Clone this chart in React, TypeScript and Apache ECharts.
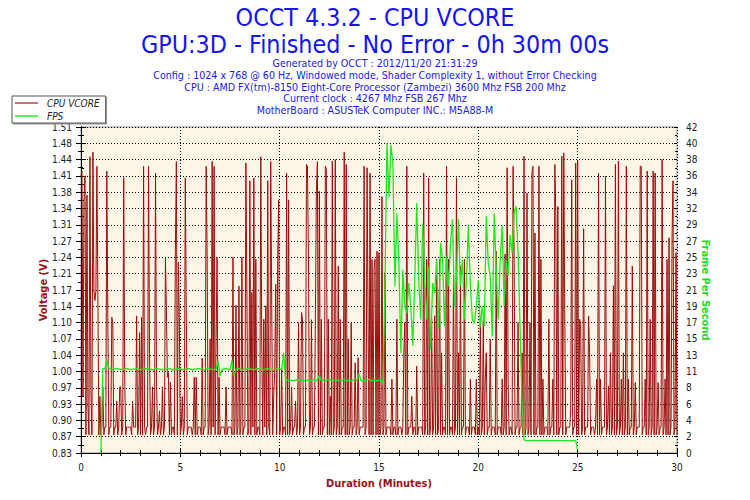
import React, { useEffect, useRef } from "react";
import * as echarts from "echarts";

const FONT = '"DejaVu Sans Condensed", "DejaVu Sans", sans-serif';

const titleLines = ["OCCT 4.3.2 - CPU VCORE", "GPU:3D - Finished - No Error - 0h 30m 00s"];
const infoLines = [
  "Generated by OCCT : 2012/11/20 21:31:29",
  "Config : 1024 x 768 @ 60 Hz, Windowed mode, Shader Complexity 1, without Error Checking",
  "CPU : AMD FX(tm)-8150 Eight-Core Processor (Zambezi) 3600 Mhz FSB 200 Mhz",
  "Current clock : 4267 Mhz FSB 267 Mhz",
  "MotherBoard : ASUSTeK Computer INC.: M5A88-M",
];

// CPU VCORE samples, one every 0.05 minute (3 s), from 0 to 30 min
const vcoreStep = 0.05;
const vcore = [
  1.41,1.42,0.95,1.36,1.41,0.87,1.37,0.93,0.87,1.45,0.96,0.87,1.46,1.17,1.15,1.17,1.43,1.16,0.87,0.95,
  0.87,0.886,0.97,0.87,0.886,0.886,1.42,1.115,0.87,0.886,0.886,1.115,1.104,0.87,0.886,0.886,0.94,0.87,0.886,0.97,
  0.97,0.87,0.886,1.406,0.99,0.87,0.886,0.886,0.886,0.886,0.886,0.87,0.94,0.886,0.886,0.886,1.118,0.87,0.886,1.083,
  0.87,1.115,0.87,1.43,0.886,0.87,0.886,0.886,1.43,1.04,0.87,0.886,0.97,0.87,0.886,1.416,0.99,0.87,0.886,0.92,
  0.87,0.886,0.97,0.87,0.886,1.24,1.13,0.99,1.0,0.87,0.98,0.87,0.886,0.886,0.87,1.25,1.44,0.87,1.23,1.11,
  0.87,0.886,0.95,0.87,0.886,1.406,1.125,0.87,0.886,0.886,0.886,0.886,0.87,0.886,0.99,0.87,0.99,0.87,0.886,0.886,
  0.886,0.87,1.03,0.87,0.886,0.886,1.43,1.24,0.87,0.886,1.07,0.87,1.44,0.886,1.43,0.87,1.07,1.24,0.87,0.99,
  0.87,0.886,0.886,0.886,0.886,0.87,0.97,0.87,0.886,0.886,0.886,0.886,0.87,1.24,0.87,0.886,1.14,0.87,0.886,1.18,
  0.87,0.886,1.24,0.87,0.886,0.886,1.437,1.174,0.87,0.886,1.40,0.87,1.167,0.886,1.406,0.87,1.236,0.87,0.886,0.886,
  0.87,1.45,1.055,0.87,1.111,0.886,1.139,0.87,1.40,0.886,0.87,1.44,1.139,0.87,0.95,1.0,1.184,0.87,1.236,1.36,
  0.87,0.886,1.01,0.87,0.886,0.886,0.87,1.416,0.87,1.36,0.87,0.886,0.97,0.87,0.886,0.886,0.94,0.87,0.886,1.104,
  0.87,0.886,1.125,1.11,0.87,0.886,0.886,1.434,1.43,1.236,0.87,0.886,1.11,0.87,0.886,0.886,1.125,1.38,1.44,0.87,
  1.378,0.87,1.111,0.87,0.886,0.886,1.43,1.423,0.87,1.111,0.87,0.95,0.87,1.441,0.87,0.886,1.444,0.87,0.886,1.222,
  0.87,1.111,0.87,0.886,0.886,1.46,0.87,1.434,0.87,1.07,0.87,0.886,1.104,0.87,0.886,0.886,1.02,0.87,0.886,1.031,
  0.87,0.886,0.886,0.886,0.886,1.43,0.87,0.886,1.427,1.111,0.87,1.416,0.87,1.236,0.87,1.215,1.236,0.87,1.253,0.87,
  1.25,0.87,0.886,1.367,0.87,0.886,1.208,0.87,0.886,0.886,0.886,0.886,0.87,0.986,0.87,0.886,0.886,0.87,1.111,0.87,
  0.886,0.886,0.886,0.87,0.886,1.041,1.104,0.87,1.43,0.87,0.886,0.886,0.886,0.95,0.87,0.886,0.886,0.87,1.013,0.87,
  0.886,0.886,0.886,0.886,0.87,1.416,0.87,0.886,1.236,0.87,1.406,0.87,0.886,1.111,0.87,0.886,1.118,0.87,1.236,0.87,
  0.886,1.236,0.87,1.041,0.87,0.886,0.886,0.87,1.43,0.87,1.236,0.87,0.886,0.886,0.87,1.215,0.87,0.886,1.406,0.87,
  1.041,0.87,1.222,0.87,0.886,0.886,1.236,0.87,0.886,0.886,0.886,0.87,0.986,0.87,0.886,0.886,0.886,0.87,0.986,0.87,
  0.886,0.87,1.111,0.87,0.886,1.111,0.87,0.986,1.041,0.87,0.886,0.886,1.069,0.87,0.886,0.886,0.886,0.87,1.253,0.87,
  0.886,0.886,0.886,0.87,0.986,0.87,0.886,1.247,0.87,1.427,0.979,0.87,0.886,0.886,0.87,1.43,1.25,0.87,0.886,0.886,
  1.104,0.87,0.886,0.886,1.041,0.87,1.451,0.87,0.886,1.374,0.87,0.886,1.104,0.87,1.416,1.43,0.87,1.291,0.87,0.886,
  0.886,1.43,0.87,1.236,0.87,0.986,0.87,0.886,0.886,0.886,0.87,1.111,0.87,0.886,0.886,0.986,0.87,1.434,1.332,0.87,
  1.346,0.87,0.886,0.886,1.451,0.87,1.458,1.125,0.87,0.886,0.886,0.886,0.886,0.923,1.402,0.87,0.886,0.886,1.437,0.87,
  1.441,0.87,1.111,1.10,0.87,0.886,1.30,0.87,0.886,0.886,0.886,1.118,1.041,0.87,0.886,0.886,0.886,0.87,0.886,0.986,
  0.87,1.416,0.87,0.986,0.87,0.886,0.886,0.886,1.409,0.87,0.886,0.972,0.87,1.041,0.87,0.886,1.181,0.87,1.434,0.87,
  0.886,1.441,0.87,0.886,0.986,0.87,1.041,0.87,0.886,1.43,0.87,0.986,0.87,0.886,0.886,1.222,0.87,0.886,0.979,0.87,
  0.886,0.886,0.886,1.43,1.43,0.87,0.886,0.886,0.986,0.87,1.42,0.87,0.886,1.111,0.87,0.886,1.42,0.87,1.416,0.87,
  0.886,0.979,0.87,0.886,0.886,1.444,0.87,0.886,0.986,0.87,1.236,0.87,1.281,0.87,0.886,1.281,1.40,0.87,0.886,1.25,0.87,
];

// FPS samples, one every 0.1 minute, from 1.0 to 25.0 min
const fpsStart = 1.0;
const fpsStep = 0.1;
const fps = [
  0,10.9,10.8,11.9,10.9,
  10.8,10.7,10.8,10.9,10.8,10.8,10.7,10.8,10.9,10.8,10.7,10.8,10.8,10.9,10.8,10.7,10.8,10.8,10.9,10.8,
  10.8,10.7,10.8,10.9,10.8,10.8,10.7,10.8,10.8,10.9,10.8,10.7,10.8,10.8,10.9,10.8,10.7,10.8,10.8,10.9,
  10.8,10.7,10.8,10.8,10.9,10.8,10.8,10.7,10.8,10.9,10.8,10.8,10.7,10.8,
  11.9,9.9,
  10.8,10.8,10.9,10.8,10.7,
  11.9,9.9,
  10.8,10.9,10.8,10.7,10.8,10.8,10.9,10.8,10.8,10.7,10.8,10.9,10.8,10.8,10.7,10.8,10.9,10.8,10.8,10.7,10.8,10.9,10.8,10.8,
  12.9,9.2,
  9.4,9.3,9.4,9.3,9.4,9.5,9.3,9.4,9.3,9.4,
  9.4,9.3,9.4,9.5,9.3,9.4,10.0,9.3,9.4,9.3,
  9.4,9.5,9.3,9.4,9.3,9.4,9.4,9.3,9.5,9.4,
  9.3,9.4,9.3,9.4,9.5,9.4,10.2,9.3,9.4,9.3,
  9.4,9.5,9.3,9.4,9.4,9.3,9.4,9.4,
  8.9,
  21.5,39.9,33.0,39.7,37.3,21.5,30.9,24.4,12.9,23.6,
  18.9,18.0,21.9,18.9,13.8,22.3,32.2,22.3,17.2,29.6,
  22.3,17.2,24.0,13.3,21.9,20.6,24.9,15.9,27.1,24.9,
  16.3,25.3,21.5,27.1,30.1,18.9,22.8,30.1,21.5,24.9,
  17.2,22.3,29.3,21.5,17.2,16.7,18.9,22.3,16.3,18.9,
  16.3,30.5,24.4,22.8,15.0,30.9,23.6,17.2,24.9,29.3,
  18.9,24.9,22.8,28.1,25.8,30.9,31.8,25.8,16.3,6.4,1.7,
  1.6,1.6,1.6,1.6,1.6,1.6,1.6,1.6,1.6,1.6,1.6,1.6,1.6,
  1.6,1.6,1.6,1.6,1.6,1.6,1.6,1.6,1.6,1.6,1.6,1.6,1.6,
  0.4,
];

const voltMin = 0.832;
const voltMax = 1.512;
const voltInterval = 0.034;
const fpsMin = 0;
const fpsMax = 42;
const fpsInterval = 2.1;

const RED = "#9a0f0f";
const GREEN = "#1ee81e";
const AXIS_RED = "#9a1414";

export default function App() {
  const ref = useRef<HTMLDivElement>(null);
  useEffect(() => {
    if (!ref.current) return;
    const chart = echarts.init(ref.current, null, { renderer: "svg" });
    const vcorePts = vcore.map((v, i) => [+(i * vcoreStep).toFixed(3), v]);
    const fpsPts = fps.map((v, i) => [+(fpsStart + i * fpsStep).toFixed(3), v]);
    const tickLabel = { color: "#222", fontSize: 10, fontFamily: FONT };
    const dotted = { show: true, lineStyle: { color: "#000", type: [1, 2] as any, width: 1 } };
    const bigTitle = { fontSize: 24.8, lineHeight: 24, fontWeight: "normal", color: "#1414f5", fontFamily: FONT };
    const titles: any[] = [
      { text: titleLines[0], left: "center", top: 5.5, padding: 0, textStyle: bigTitle },
      { text: titleLines[1], left: "center", top: 32, padding: 0, textStyle: bigTitle },
    ];
    infoLines.forEach((t, i) => {
      titles.push({
        text: t, left: "center", top: 57.5 + i * 11.8, padding: 0,
        textStyle: { fontSize: 10.6, lineHeight: 11, fontWeight: "normal", color: "#1a1ae6", fontFamily: FONT },
      });
    });
    chart.setOption({
      animation: false,
      backgroundColor: "#fff",
      title: titles,
      legend: {
        orient: "vertical",
        left: 12,
        top: 96,
        itemWidth: 23,
        itemHeight: 2,
        itemGap: 1,
        icon: "rect",
        padding: [1, 6, 1, 3],
        backgroundColor: "#fff",
        borderColor: "#555",
        borderWidth: 1,
        borderRadius: 0,
        shadowColor: "#999",
        shadowOffsetX: 1,
        shadowOffsetY: 1,
        textStyle: { fontStyle: "italic", fontSize: 10, lineHeight: 12, color: "#222", fontFamily: FONT, padding: [0, 0, 0, 4] },
        data: [
          { name: "CPU VCORE", itemStyle: { color: "#d07070" } },
          { name: "FPS", itemStyle: { color: "#60f060" } },
        ],
      },
      grid: {
        left: 81,
        right: 73,
        top: 127,
        bottom: 47,
        show: true,
        backgroundColor: "#fdf5e6",
        borderColor: "#999",
        borderWidth: 1,
        outerBoundsMode: "none",
      },
      xAxis: [
        {
          type: "value", min: 0, max: 30, interval: 5, position: "bottom",
          axisLine: { lineStyle: { color: "#000" } },
          axisTick: { length: 4, lineStyle: { color: "#000" } },
          minorTick: { show: true, splitNumber: 5, length: 3, lineStyle: { color: "#000" } },
          axisLabel: { ...tickLabel, margin: 9 },
          splitLine: dotted,
          name: "Duration (Minutes)", nameLocation: "middle", nameGap: 25, nameMoveOverlap: false,
          nameTextStyle: { color: AXIS_RED, fontWeight: "bold", fontSize: 11, fontFamily: FONT },
        },
        {
          type: "value", min: 0, max: 30, interval: 5, position: "bottom",
          axisLine: { show: false },
          axisTick: { inside: true, length: 4, lineStyle: { color: "#000" } },
          minorTick: { show: true, splitNumber: 5, length: 3, lineStyle: { color: "#000" } },
          axisLabel: { show: false },
          splitLine: { show: false },
        },
      ],
      yAxis: [
        {
          type: "value", min: voltMin, max: voltMax, interval: voltInterval, position: "left",
          axisLine: { show: true, lineStyle: { color: "#000" } },
          axisTick: { show: true, length: 5, lineStyle: { color: "#000" } },
          minorTick: { show: true, splitNumber: 2, length: 3, lineStyle: { color: "#000" } },
          axisLabel: { ...tickLabel, margin: 9, formatter: (v: number) => v.toFixed(2) },
          splitLine: dotted,
          name: "Voltage (V)", nameLocation: "middle", nameGap: 32, nameMoveOverlap: false,
          nameTextStyle: { color: AXIS_RED, fontWeight: "bold", fontSize: 11, fontFamily: FONT },
        },
        {
          type: "value", min: fpsMin, max: fpsMax, interval: fpsInterval, position: "right",
          axisLine: { show: true, lineStyle: { color: "#000" } },
          axisTick: { show: true, length: 5, lineStyle: { color: "#000" } },
          minorTick: { show: true, splitNumber: 2, length: 3, lineStyle: { color: "#000" } },
          axisLabel: { ...tickLabel, margin: 9, formatter: (v: number) => String(Math.round(v)) },
          splitLine: { show: false },
          name: "Frame Per Second", nameLocation: "middle", nameGap: 23, nameRotate: -90, nameMoveOverlap: false,
          nameTextStyle: { color: "#22dd22", fontWeight: "bold", fontSize: 11, fontFamily: FONT },
        },
        {
          type: "value", min: voltMin, max: voltMax, interval: voltInterval, position: "left",
          axisLine: { show: false },
          axisTick: { show: true, inside: true, length: 3, lineStyle: { color: "#000" } },
          minorTick: { show: true, splitNumber: 2, length: 2, lineStyle: { color: "#000" } },
          axisLabel: { show: false },
          splitLine: { show: false },
        },
        {
          type: "value", min: fpsMin, max: fpsMax, interval: fpsInterval, position: "right",
          axisLine: { show: false },
          axisTick: { show: true, inside: true, length: 3, lineStyle: { color: "#000" } },
          minorTick: { show: true, splitNumber: 2, length: 2, lineStyle: { color: "#000" } },
          axisLabel: { show: false },
          splitLine: { show: false },
        },
      ],
      series: [
        {
          name: "CPU VCORE", type: "line", xAxisIndex: 0, yAxisIndex: 0,
          data: vcorePts, symbol: "none", showSymbol: false,
          lineStyle: { color: RED, width: 1 }, itemStyle: { color: RED }, z: 2,
        },
        {
          name: "FPS", type: "line", xAxisIndex: 0, yAxisIndex: 1,
          data: fpsPts, symbol: "none", showSymbol: false,
          lineStyle: { color: GREEN, width: 1.3 }, itemStyle: { color: GREEN }, z: 3,
        },
      ],
    });
    return () => chart.dispose();
  }, []);
  return <div ref={ref} style={{ position: "fixed", left: 0, top: 0, width: 750, height: 500 }} />;
}
